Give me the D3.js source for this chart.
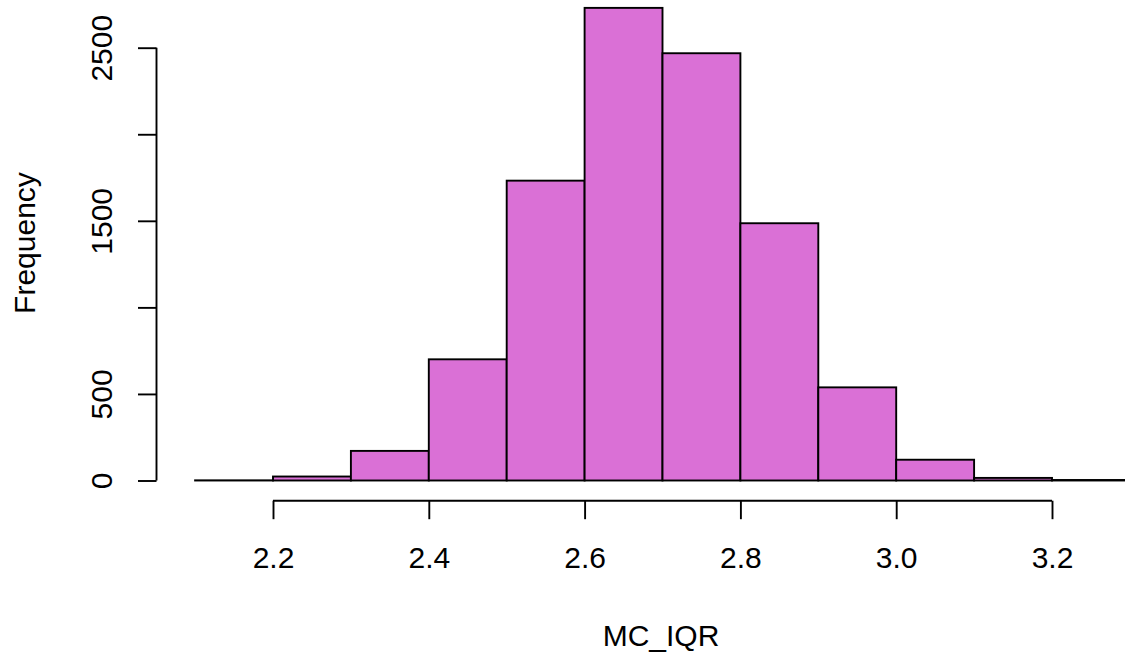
<!DOCTYPE html>
<html>
<head>
<meta charset="utf-8">
<script src="https://cdn.jsdelivr.net/npm/d3@7"></script>
<style>
  html, body { margin: 0; padding: 0; background: #fff; }
  svg { display: block; }
  text { font-family: "Liberation Sans", Arial, Helvetica, sans-serif; fill: #000; }
</style>
</head>
<body>
<svg id="chart" width="1125" height="654"></svg>
<script>
// Histogram of MC_IQR: bin edges and counts per bin
const binStarts = [2.1, 2.2, 2.3, 2.4, 2.5, 2.6, 2.7, 2.8, 2.9, 3.0, 3.1, 3.2];
const binWidth = 0.1;
const counts = [1, 23, 171, 700, 1732, 2730, 2468, 1486, 538, 120, 15, 3];
const xTicks = [2.2, 2.4, 2.6, 2.8, 3.0, 3.2];
const yTicks = [0, 500, 1000, 1500, 2000, 2500];
// 1000 and 2000 are left unlabelled (labels would overlap)
const yTickLabels = ["0", "500", "", "1500", "", "2500"];

const svg = d3.select("#chart");
const fontSize = 30;
const lw = 1.9;

const x = d3.scaleLinear().domain([2.2, 3.2]).range([273, 1052]);
const y = d3.scaleLinear().domain([0, 2500]).range([480.5, 47.7]);

// bars
svg.append("g")
  .selectAll("rect")
  .data(binStarts.map((s, i) => ({ x0: s, x1: +(s + binWidth).toFixed(1), n: counts[i] })))
  .join("rect")
  .attr("x", d => x(d.x0))
  .attr("y", d => y(d.n))
  .attr("width", d => x(d.x1) - x(d.x0))
  .attr("height", d => y(0) - y(d.n))
  .attr("fill", "#DA70D6")
  .attr("stroke", "#000")
  .attr("stroke-width", lw);

// x axis
const xAxis = d3.axisBottom(x)
  .tickValues(xTicks)
  .tickFormat(d3.format(".1f"))
  .tickSize(18.5)
  .tickSizeOuter(0);
const gx = svg.append("g")
  .attr("transform", "translate(0,500.7)")
  .call(xAxis);
gx.select(".domain").attr("stroke-width", lw).attr("d", `M${x(2.2)},0H${x(3.2)}`);
gx.selectAll(".tick line").attr("stroke-width", lw);
gx.selectAll(".tick text")
  .attr("font-size", fontSize)
  .attr("font-family", "Liberation Sans, Arial, sans-serif")
  .attr("dy", null)
  .attr("y", 67.3);

// y axis
const yAxis = d3.axisLeft(y)
  .tickValues(yTicks)
  .tickFormat((d, i) => yTickLabels[i])
  .tickSize(18.5)
  .tickSizeOuter(0);
const gy = svg.append("g")
  .attr("transform", "translate(156.5,0)")
  .call(yAxis);
gy.select(".domain").attr("stroke-width", lw).attr("d", `M0,${y(0)}V${y(2500)}`);
gy.selectAll(".tick line").attr("stroke-width", lw);
gy.selectAll(".tick text")
  .attr("font-size", fontSize)
  .attr("font-family", "Liberation Sans, Arial, sans-serif")
  .attr("text-anchor", "middle")
  .attr("x", null)
  .attr("dy", null)
  .attr("transform", "translate(-45,0) rotate(-90)")
  .attr("y", 0);

// axis titles
svg.append("text")
  .attr("x", 661)
  .attr("y", 646)
  .attr("text-anchor", "middle")
  .attr("font-size", fontSize)
  .text("MC_IQR");

svg.append("text")
  .attr("transform", "translate(35,243) rotate(-90)")
  .attr("text-anchor", "middle")
  .attr("font-size", fontSize)
  .text("Frequency");
</script>
</body>
</html>
